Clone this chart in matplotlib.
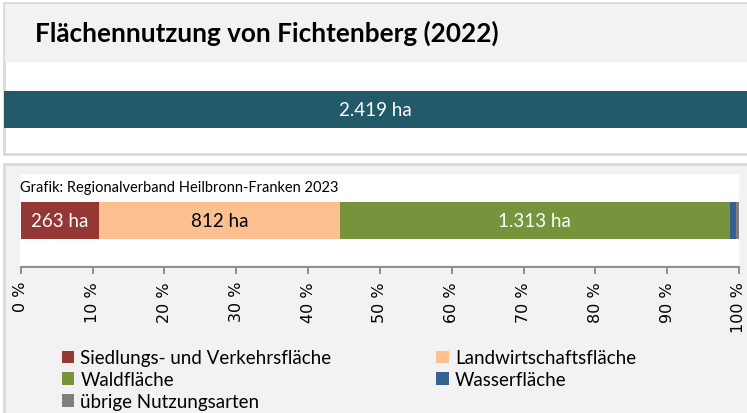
import matplotlib.pyplot as plt
from matplotlib.patches import Patch, Rectangle

TOTAL_LABEL = "Flächennutzung von Fichtenberg (2022)"
SOURCE_LABEL = "Grafik: Regionalverband Heilbronn-Franken 2023"
total_area = 2419

categories = [
    "Siedlungs- und Verkehrsfläche",
    "Landwirtschaftsfläche",
    "Waldfläche",
    "Wasserfläche",
    "übrige Nutzungsarten",
]
area_ha = [263, 812, 1313, 20, 11]
colors = ["#953735", "#fac090", "#77933c", "#376092", "#7f7f7f"]
label_colors = ["white", "black", "white", None, None]
tick_values = list(range(0, 101, 10))

TEXT_FONT = ["Lato", "DejaVu Sans"]
W, H = 747, 414


def fmt_ha(v):
    return f"{v:,}".replace(",", ".") + " ha"


def px_rect(x0, y0, x1, y1):
    """Figure-fraction rect from pixel box (origin top-left)."""
    return [x0 / W, 1 - y1 / H, (x1 - x0) / W, (y1 - y0) / H]


def background(xy, w, h, **kw):
    fig.patches.append(Rectangle(xy, w, h, transform=fig.transFigure, zorder=-5, **kw))


fig = plt.figure(figsize=(W / 100, H / 100), dpi=100)
fig.patch.set_facecolor("white")

# panel frames and backgrounds
border = "#d9d9d9"
background((4 / W, 1 - 155 / H), 1, 151 / H, facecolor="white", edgecolor=border, linewidth=2)
background((5 / W, 1 - 63 / H), 1, 58 / H, facecolor="#f2f2f2", edgecolor="none")
background((4 / W, -0.1), 1, 0.1 + (H - 165) / H, facecolor="#f2f2f2", edgecolor=border, linewidth=2)
background((20 / W, 1 - 266 / H), 719 / W, 91 / H, facecolor="white", edgecolor="none")

fig.text(35 / W, 1 - 33 / H, TOTAL_LABEL, fontsize=18.8, fontweight="bold",
         family=TEXT_FONT, va="center", ha="left")

# total area bar
ax_top = fig.add_axes(px_rect(4, 92, W, 129))
ax_top.barh(0, total_area, height=1, color="#235a6a")
ax_top.set_xlim(0, total_area)
ax_top.set_ylim(-0.5, 0.5)
ax_top.axis("off")
ax_top.text(total_area / 2, 0, fmt_ha(total_area), color="white", fontsize=13.5,
            family=TEXT_FONT, ha="center", va="center")

# stacked share bar
ax = fig.add_axes(px_rect(20.7, 175, 739, 268))
ax.patch.set_alpha(0)
shares = [v / sum(area_ha) * 100 for v in area_ha]
left = 0
for share, value, color, lc in zip(shares, area_ha, colors, label_colors):
    ax.barh(0.5, share, left=left, height=0.4, color=color)
    if lc is not None:
        ax.text(left + share / 2, 0.5, fmt_ha(value), color=lc, fontsize=13.5,
                family=TEXT_FONT, ha="center", va="center")
    left += share
ax.set_xlim(0, 100)
ax.set_ylim(0, 1)
ax.set_xticks(tick_values)
ax.set_xticklabels([f"{t} %" for t in tick_values], rotation=90, fontsize=11.5)
ax.set_yticks([])
for side in ("top", "left", "right"):
    ax.spines[side].set_visible(False)
ax.spines["bottom"].set_color("#868686")
ax.spines["bottom"].set_linewidth(1.3)
ax.tick_params(axis="x", direction="out", length=5, width=1.3, color="#868686", pad=5)

fig.text(20 / W, 1 - 188 / H, SOURCE_LABEL, fontsize=10.5, family=TEXT_FONT,
         va="center", ha="left")

# legend, filled column by column
order = [0, 2, 4, 1, 3]
handles = [Patch(facecolor=colors[i], edgecolor="none") for i in order]
labels = [categories[i] for i in order]
fig.legend(handles, labels, ncol=2, loc="upper left",
           bbox_to_anchor=(54 / W, 1 - 343 / H), frameon=False,
           prop={"family": TEXT_FONT, "size": 13.5},
           handlelength=0.65, handleheight=0.65, handletextpad=0.35,
           labelspacing=0.25, columnspacing=5.6, borderaxespad=0)

fig.savefig("out.png", dpi=100)
